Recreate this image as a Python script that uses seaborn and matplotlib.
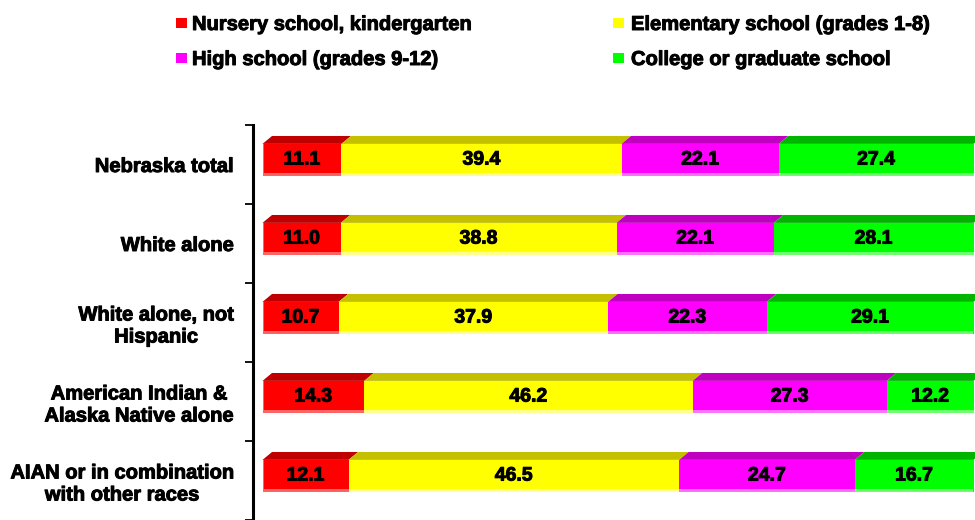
import numpy as np
import pandas as pd
import matplotlib
matplotlib.use("Agg")
import matplotlib.pyplot as plt
import matplotlib.patheffects as pe
from matplotlib.patches import Polygon, Rectangle
import seaborn as sns

# ── Data ──────────────────────────────────────────────────────────────────────
groups = ["Nebraska total", "White alone", "White alone, not\nHispanic",
          "American Indian &\nAlaska Native alone",
          "AIAN or in combination\nwith other races"]
levels = ["Nursery school, kindergarten", "Elementary school (grades 1-8)",
          "High school (grades 9-12)", "College or graduate school"]
nursery = [11.1, 11.0, 10.7, 14.3, 12.1]
elementary = [39.4, 38.8, 37.9, 46.2, 46.5]
high_school = [22.1, 22.1, 22.3, 27.3, 24.7]
college = [27.4, 28.1, 29.1, 12.2, 16.7]

front = ["#FF0000", "#FFFF00", "#FF00FF", "#00FF00"]
top = ["#C00000", "#C4C000", "#C000C0", "#00B400"]
light = ["#FF6464", "#FFFF8C", "#FF70FF", "#6CFF6C"]

df = pd.DataFrame({"group": groups, levels[0]: nursery, levels[1]: elementary,
                   levels[2]: high_school, levels[3]: college})
vals = df[levels].to_numpy()
cum = vals.cumsum(axis=1)
start = cum - vals

sns.set_theme(style="white")
plt.rcParams["font.family"] = ["Liberation Sans", "DejaVu Sans"]
plt.rcParams["font.weight"] = "bold"
plt.rcParams["text.color"] = "black"
plt.rcParams["ytick.color"] = "black"
plt.rcParams["ytick.labelcolor"] = "black"

heavy = [pe.withStroke(linewidth=0.7, foreground="black")]

W, H = 975, 520
fig = plt.figure(figsize=(W / 100, H / 100), dpi=100)
ax = fig.add_axes([253 / W, 0, 1 - 253 / W, 395 / H])

BAR_H = 0.41     # front face height
DX, DY = 1.34, 0.10   # 3d depth offset
STRIP = 0.04

# front faces: cumulative bars drawn largest first
for k in reversed(range(4)):
    sns.barplot(x=cum[:, k], y=df["group"], color=front[k], orient="h",
                width=BAR_H, saturation=1, errorbar=None, linewidth=0, ax=ax)

for i in range(len(groups)):
    ytop = i - BAR_H / 2
    for k in range(4):
        x0, x1 = start[i, k], cum[i, k]
        ax.add_patch(Polygon([(x0, ytop), (x1, ytop), (x1 + DX, ytop - DY),
                              (x0 + DX, ytop - DY)], closed=True,
                             facecolor=top[k], edgecolor="none"))
        ax.add_patch(Rectangle((x0, i + BAR_H / 2 - STRIP), x1 - x0, STRIP,
                               facecolor=light[k], edgecolor="none"))
        ax.text((x0 + x1) / 2, i, f"{vals[i, k]:.1f}", ha="center", va="center",
                fontsize=14, fontweight="bold", color="black", path_effects=heavy)
    ax.add_patch(Rectangle((0, ytop), 0.25, BAR_H, facecolor=light[0],
                           edgecolor="none"))

ax.set_xlim(-(262.5 - 253) / 7.11, (975 - 262.5) / 7.11)
ax.set_ylim(4.494, -0.444)

ax.set_yticks(np.arange(len(groups)) + 0.056)
ax.set_yticklabels(groups, fontsize=14.5, fontweight="bold", linespacing=1.2,
                   color="black")
for t in ax.get_yticklabels():
    t.set_multialignment("center")
    t.set_path_effects(heavy)
ax.set_yticks(np.arange(len(groups) + 1) - 0.444, minor=True)
ax.tick_params(axis="y", which="major", length=0, pad=14)
ax.tick_params(axis="y", which="minor", length=6, width=1.3, color="black",
               direction="out", left=True)
ax.set_xticks([])
ax.set_xlabel("")
ax.set_ylabel("")
for s in ["top", "right", "bottom"]:
    ax.spines[s].set_visible(False)
ax.spines["left"].set_color("black")
ax.spines["left"].set_linewidth(2.2)

# legend, laid out by hand
legend_pos = [(176, 18, 192, 30), (613, 18, 631, 30),
              (176, 53, 192, 65), (613, 53, 631, 65)]
for k, (mx, my, tx, ty) in enumerate(legend_pos):
    fig.patches.append(Rectangle((mx / W, 1 - (my + 10) / H), 11 / W, 10 / H,
                                 transform=fig.transFigure, facecolor=front[k],
                                 edgecolor="none"))
    fig.text(tx / W, 1 - ty / H, levels[k], ha="left", va="baseline",
             fontsize=14.5, fontweight="bold", color="black", path_effects=heavy)

fig.savefig("out.png", dpi=100)
